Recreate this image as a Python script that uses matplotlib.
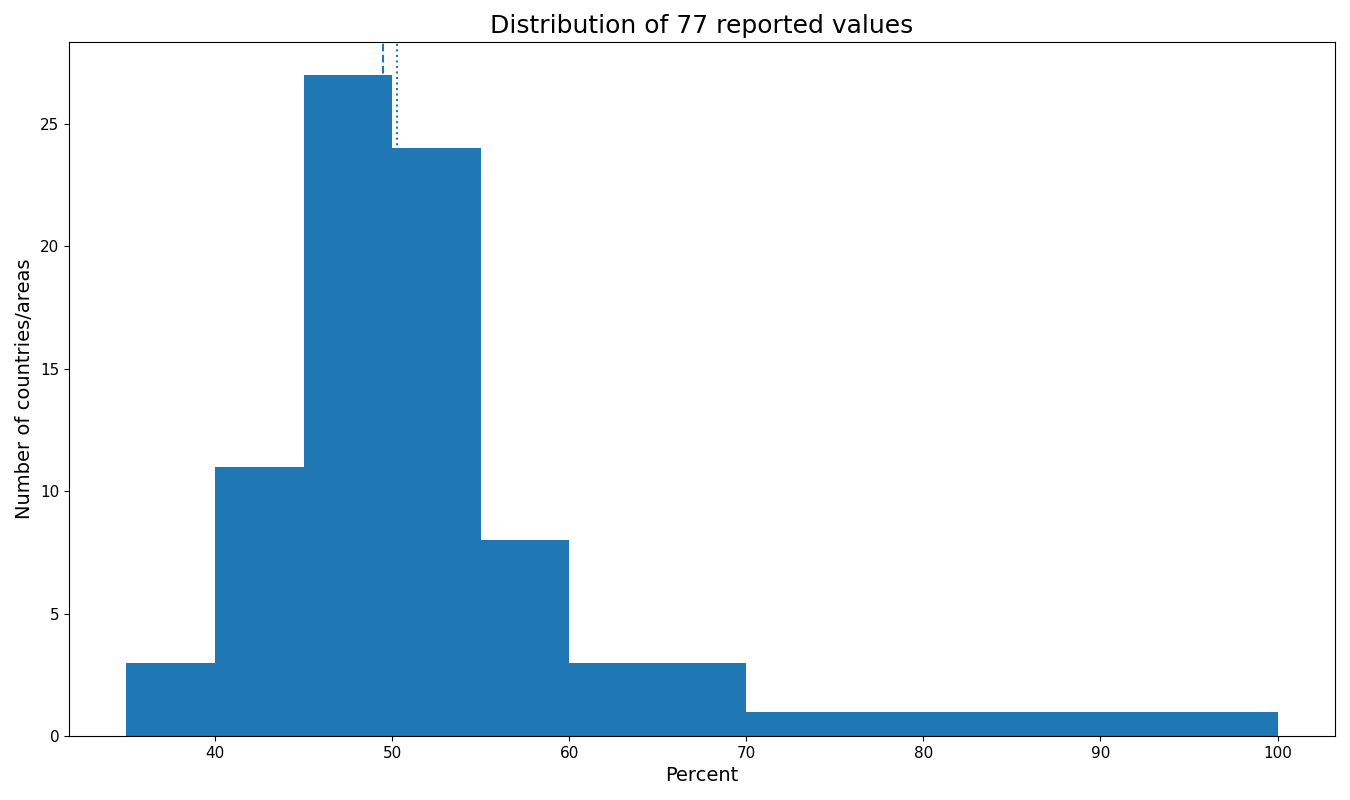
import numpy as np
import matplotlib
matplotlib.use("Agg")
import matplotlib.pyplot as plt

# histogram bins
bin_edges = [35, 40, 45, 50, 55, 60, 70, 100]
counts = [3, 11, 27, 24, 8, 3, 1]
median_val = 49.5
mean_val = 50.3

edges = np.array(bin_edges, dtype=float)
mids = (edges[:-1] + edges[1:]) / 2

fig, ax = plt.subplots(figsize=(13.5, 8), dpi=100)
ax.hist(mids, bins=edges, weights=counts, color="C0")
ax.axvline(median_val, color="C0", linestyle="--")
ax.axvline(mean_val, color="C0", linestyle=":")

ax.set_title("Distribution of %d reported values" % sum(counts), fontsize=18)
ax.set_xlabel("Percent", fontsize=14)
ax.set_ylabel("Number of countries/areas", fontsize=14)
ax.tick_params(labelsize=11)

fig.subplots_adjust(left=0.051, right=0.989, top=0.948, bottom=0.08)
fig.savefig("out.png")
